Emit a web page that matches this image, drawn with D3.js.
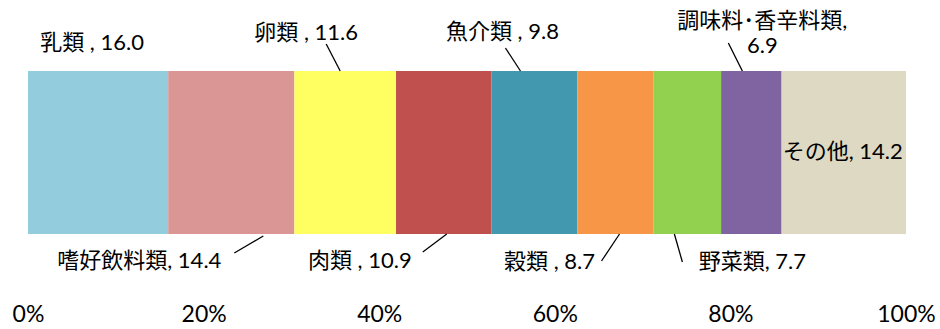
<!DOCTYPE html>
<html>
<head>
<meta charset="utf-8">
<script src="https://cdn.jsdelivr.net/npm/d3@7"></script>
<style>
  html, body { margin: 0; padding: 0; background: #fff; }
  svg text { font-family: "Lato", "Noto Sans CJK JP", sans-serif; fill: #000; }
</style>
</head>
<body>
<svg id="chart" width="940" height="329"></svg>
<script>
// Food groups and their shares
const categories = ["乳類", "嗜好飲料類", "卵類", "肉類", "魚介類", "穀類", "野菜類", "調味料･香辛料類", "その他"];
const values = [16.0, 14.4, 11.6, 10.9, 9.8, 8.7, 7.7, 6.9, 14.2];
const tickLabels = ["0%", "20%", "40%", "60%", "80%", "100%"];
const colors = ["#93CDDD", "#D99694", "#FFFF61", "#C0504D", "#4298AF", "#F79646", "#92D050", "#8064A2", "#DDD9C3"];

// Label text lines for each segment
const labelLines = [
  ["乳類 , 16.0"],
  ["嗜好飲料類, 14.4"],
  ["卵類 , 11.6"],
  ["肉類 , 10.9"],
  ["魚介類 , 9.8"],
  ["穀類 , 8.7"],
  ["野菜類, 7.7"],
  ["調味料･香辛料類,", "6.9"],
  ["その他, 14.2"]
];

// Label placement relative to the segment centre (dx, y of first baseline)
// and leader lines (from label side to bar edge), as offsets from segment centre.
const labelLayout = [
  { dx: -6,  y: 50,  leader: null },
  { dx: -92, y: 268, leader: [3, 253, 32, 236] },
  { dx: -39, y: 40,  leader: [-19, 44, -5, 71] },
  { dx: -84, y: 268, leader: [-21, 252, 3, 234] },
  { dx: -32, y: 39,  leader: [-29, 48, -14, 71] },
  { dx: -66, y: 269, leader: [-14, 261, 4, 234] },
  { dx: 65,  y: 269, leader: [-13, 234, -5, 262] },
  { dx: 11,  y: 28,  leader: [-23, 43, -9, 71], lineGap: 25 },
  { dx: -1,  y: 159, leader: null }
];

const svg = d3.select("#chart");
const total = d3.sum(values);

const x = d3.scaleLinear().domain([0, 1]).range([28, 906]);
const barTop = 71, barBottom = 234;

// stacked positions as fractions of the total
const stack = [];
let acc = 0;
values.forEach((v, i) => {
  stack.push({ i, name: categories[i], v, x0: acc / total, x1: (acc + v) / total });
  acc += v;
});

svg.append("g").selectAll("rect")
  .data(stack)
  .join("rect")
  .attr("x", d => x(d.x0))
  .attr("y", barTop)
  .attr("width", d => x(d.x1) - x(d.x0))
  .attr("height", barBottom - barTop)
  .attr("fill", d => colors[d.i]);

// axis labels
const axis = d3.axisBottom(x)
  .tickValues(d3.range(0, 1.0001, 0.2))
  .tickFormat((d, i) => tickLabels[i])
  .tickSize(0)
  .tickPadding(0);
const gAxis = svg.append("g").attr("transform", "translate(0,305)").call(axis);
gAxis.select(".domain").remove();
gAxis.selectAll("text")
  .attr("dy", "0")
  .attr("y", 17)
  .style("font-family", "Lato, 'Noto Sans CJK JP', sans-serif")
  .style("font-size", "23px")
  .attr("fill", "#000");

// data labels
const lbl = svg.append("g");
stack.forEach(d => {
  const cx = (x(d.x0) + x(d.x1)) / 2;
  const L = labelLayout[d.i];
  const t = lbl.append("text")
    .attr("text-anchor", "middle")
    .attr("font-size", 22)
    .attr("x", cx + L.dx)
    .attr("y", L.y);
  labelLines[d.i].forEach((line, k) => {
    t.append("tspan")
      .attr("x", cx + L.dx)
      .attr("y", L.y + k * (L.lineGap || 0))
      .text(line);
  });
  if (L.leader) {
    lbl.append("line")
      .attr("x1", cx + L.leader[0]).attr("y1", L.leader[1])
      .attr("x2", cx + L.leader[2]).attr("y2", L.leader[3])
      .attr("stroke", "#000")
      .attr("stroke-width", 1.3);
  }
});
</script>
</body>
</html>
